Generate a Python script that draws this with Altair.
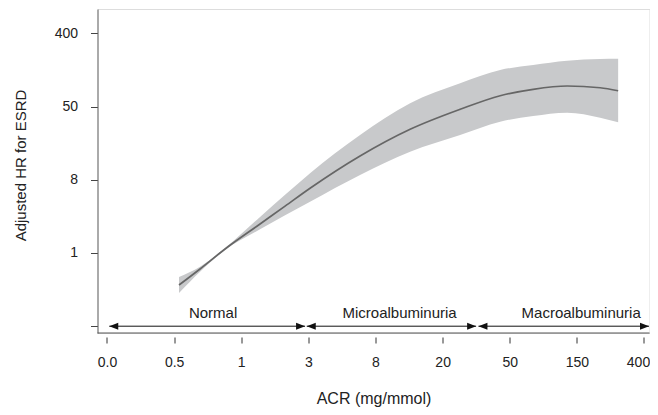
import altair as alt
import pandas as pd

# Curve (natural-log scales): ln(ACR) vs ln(adjusted HR) with 95% band
ln_acr = [-0.927, -0.614, -0.241, 0.280, 0.653, 1.025, 1.770, 2.516, 3.261, 3.857, 4.349, 4.855, 5.347, 5.615]
ln_hr = [-0.874, -0.437, 0.109, 0.792, 1.280, 1.768, 2.650, 3.380, 3.926, 4.298, 4.473, 4.563, 4.516, 4.434]
ln_lo = [-1.093, -0.511, 0.082, 0.648, 1.030, 1.402, 2.131, 2.768, 3.224, 3.587, 3.743, 3.833, 3.697, 3.571]
ln_hi = [-0.656, -0.374, 0.137, 0.985, 1.590, 2.178, 3.224, 4.090, 4.637, 5.000, 5.137, 5.254, 5.301, 5.309]

x_ticks = [-2, -1, 0, 1, 2, 3, 4, 5, 6]
x_tick_labels = ["0.0", "0.5", "1", "3", "8", "20", "50", "150", "400"]
y_ticks = [-2, 0, 2, 4, 6]
y_tick_labels = ["", "1", "8", "50", "400"]

cat_names = ["Normal", "Microalbuminuria", "Macroalbuminuria"]
cat_start = [-1.966, 0.976, 3.534]
cat_end = [0.951, 3.499, 6.075]
cat_label_x = [-0.42, 2.359, 5.064]
arrow_level = -2

x_domain = [-2.1415, 6.082]
y_domain = [-2.186, 6.667]

W, H = 552, 324
FONT = "Liberation Sans"

curve = pd.DataFrame({"x": ln_acr, "y": ln_hr, "lo": ln_lo, "hi": ln_hi})
cats = pd.DataFrame({"name": cat_names, "x0": cat_start, "x1": cat_end,
                     "xm": cat_label_x, "y": [arrow_level] * len(cat_names)})

x_scale = alt.Scale(domain=x_domain, nice=False, zero=False)
y_scale = alt.Scale(domain=y_domain, nice=False, zero=False)

x_expr = "[" + ",".join("'%s'" % l for l in x_tick_labels) + "][datum.value - (%d)]" % x_ticks[0]
y_expr = "[" + ",".join("'%s'" % l for l in y_tick_labels) + "][(datum.value - (%d)) / 2]" % y_ticks[0]

x_axis = alt.Axis(values=x_ticks, labelExpr=x_expr, title="ACR (mg/mmol)",
                  domain=False, offset=4, tickSize=6, tickColor="#333", tickWidth=1,
                  labelPadding=12, labelFontSize=14, labelColor="#222", labelFont=FONT,
                  labelOffset={"condition": {"test": "datum.value == %d" % x_ticks[-1], "value": -6},
                               "value": 0},
                  titleFontSize=16, titleFontWeight="normal", titleColor="#222", titleFont=FONT,
                  titleY=66, titleBaseline="alphabetic", grid=False, labelFlush=False)
y_axis = alt.Axis(values=y_ticks, labelExpr=y_expr, title="Adjusted HR for ESRD",
                  domain=True, domainColor="#666", domainWidth=1,
                  tickSize=7, tickColor="#444", tickWidth=1,
                  labelPadding=13, labelFontSize=14, labelColor="#222", labelFont=FONT,
                  titleFontSize=15, titleFontWeight="normal", titleColor="#222", titleFont=FONT,
                  titleAngle=270, titleX=-72.5, titleY=156, titleAlign="center",
                  titleBaseline="alphabetic", grid=False, labelFlush=False)

band = alt.Chart(curve).mark_area(color="#c8c9cb", interpolate="monotone", opacity=1).encode(
    x=alt.X("x:Q", scale=x_scale, axis=x_axis),
    y=alt.Y("lo:Q", scale=y_scale, axis=y_axis),
    y2="hi:Q",
)
line = alt.Chart(curve).mark_line(color="#666666", strokeWidth=1.7, interpolate="monotone").encode(
    x="x:Q", y="y:Q"
)

arrow_lines = alt.Chart(cats).mark_rule(color="#111", strokeWidth=1).encode(
    x="x0:Q", x2="x1:Q", y="y:Q"
)
heads_right = alt.Chart(cats).mark_point(shape="M0,0L-2,-0.78L-2,0.78Z", filled=True,
                                         size=81, color="#111", opacity=1).encode(x="x1:Q", y="y:Q")
heads_left = alt.Chart(cats).mark_point(shape="M0,0L2,-0.78L2,0.78Z", filled=True,
                                        size=81, color="#111", opacity=1).encode(x="x0:Q", y="y:Q")
cat_text = alt.Chart(cats).mark_text(fontSize=15, dy=-8.5, baseline="alphabetic",
                                     color="#222", font=FONT).encode(
    x="xm:Q", y="y:Q", text="name:N"
)

bottom_line = alt.Chart(pd.DataFrame({"k": [0]})).mark_rule(color="#555", strokeWidth=1).encode(
    x=alt.value(0), x2=alt.value(W), y=alt.value(H)
)

chart = alt.layer(band, line, arrow_lines, heads_right, heads_left, cat_text, bottom_line).properties(
    width=W, height=H,
    padding={"left": 89.5, "top": 1, "right": 0.5, "bottom": 74},
    autosize=alt.AutoSizeParams(type="none"),
).configure_view(stroke=None).configure(font=FONT)

chart.save("out.html", embed_options={"renderer": "svg", "actions": False})
